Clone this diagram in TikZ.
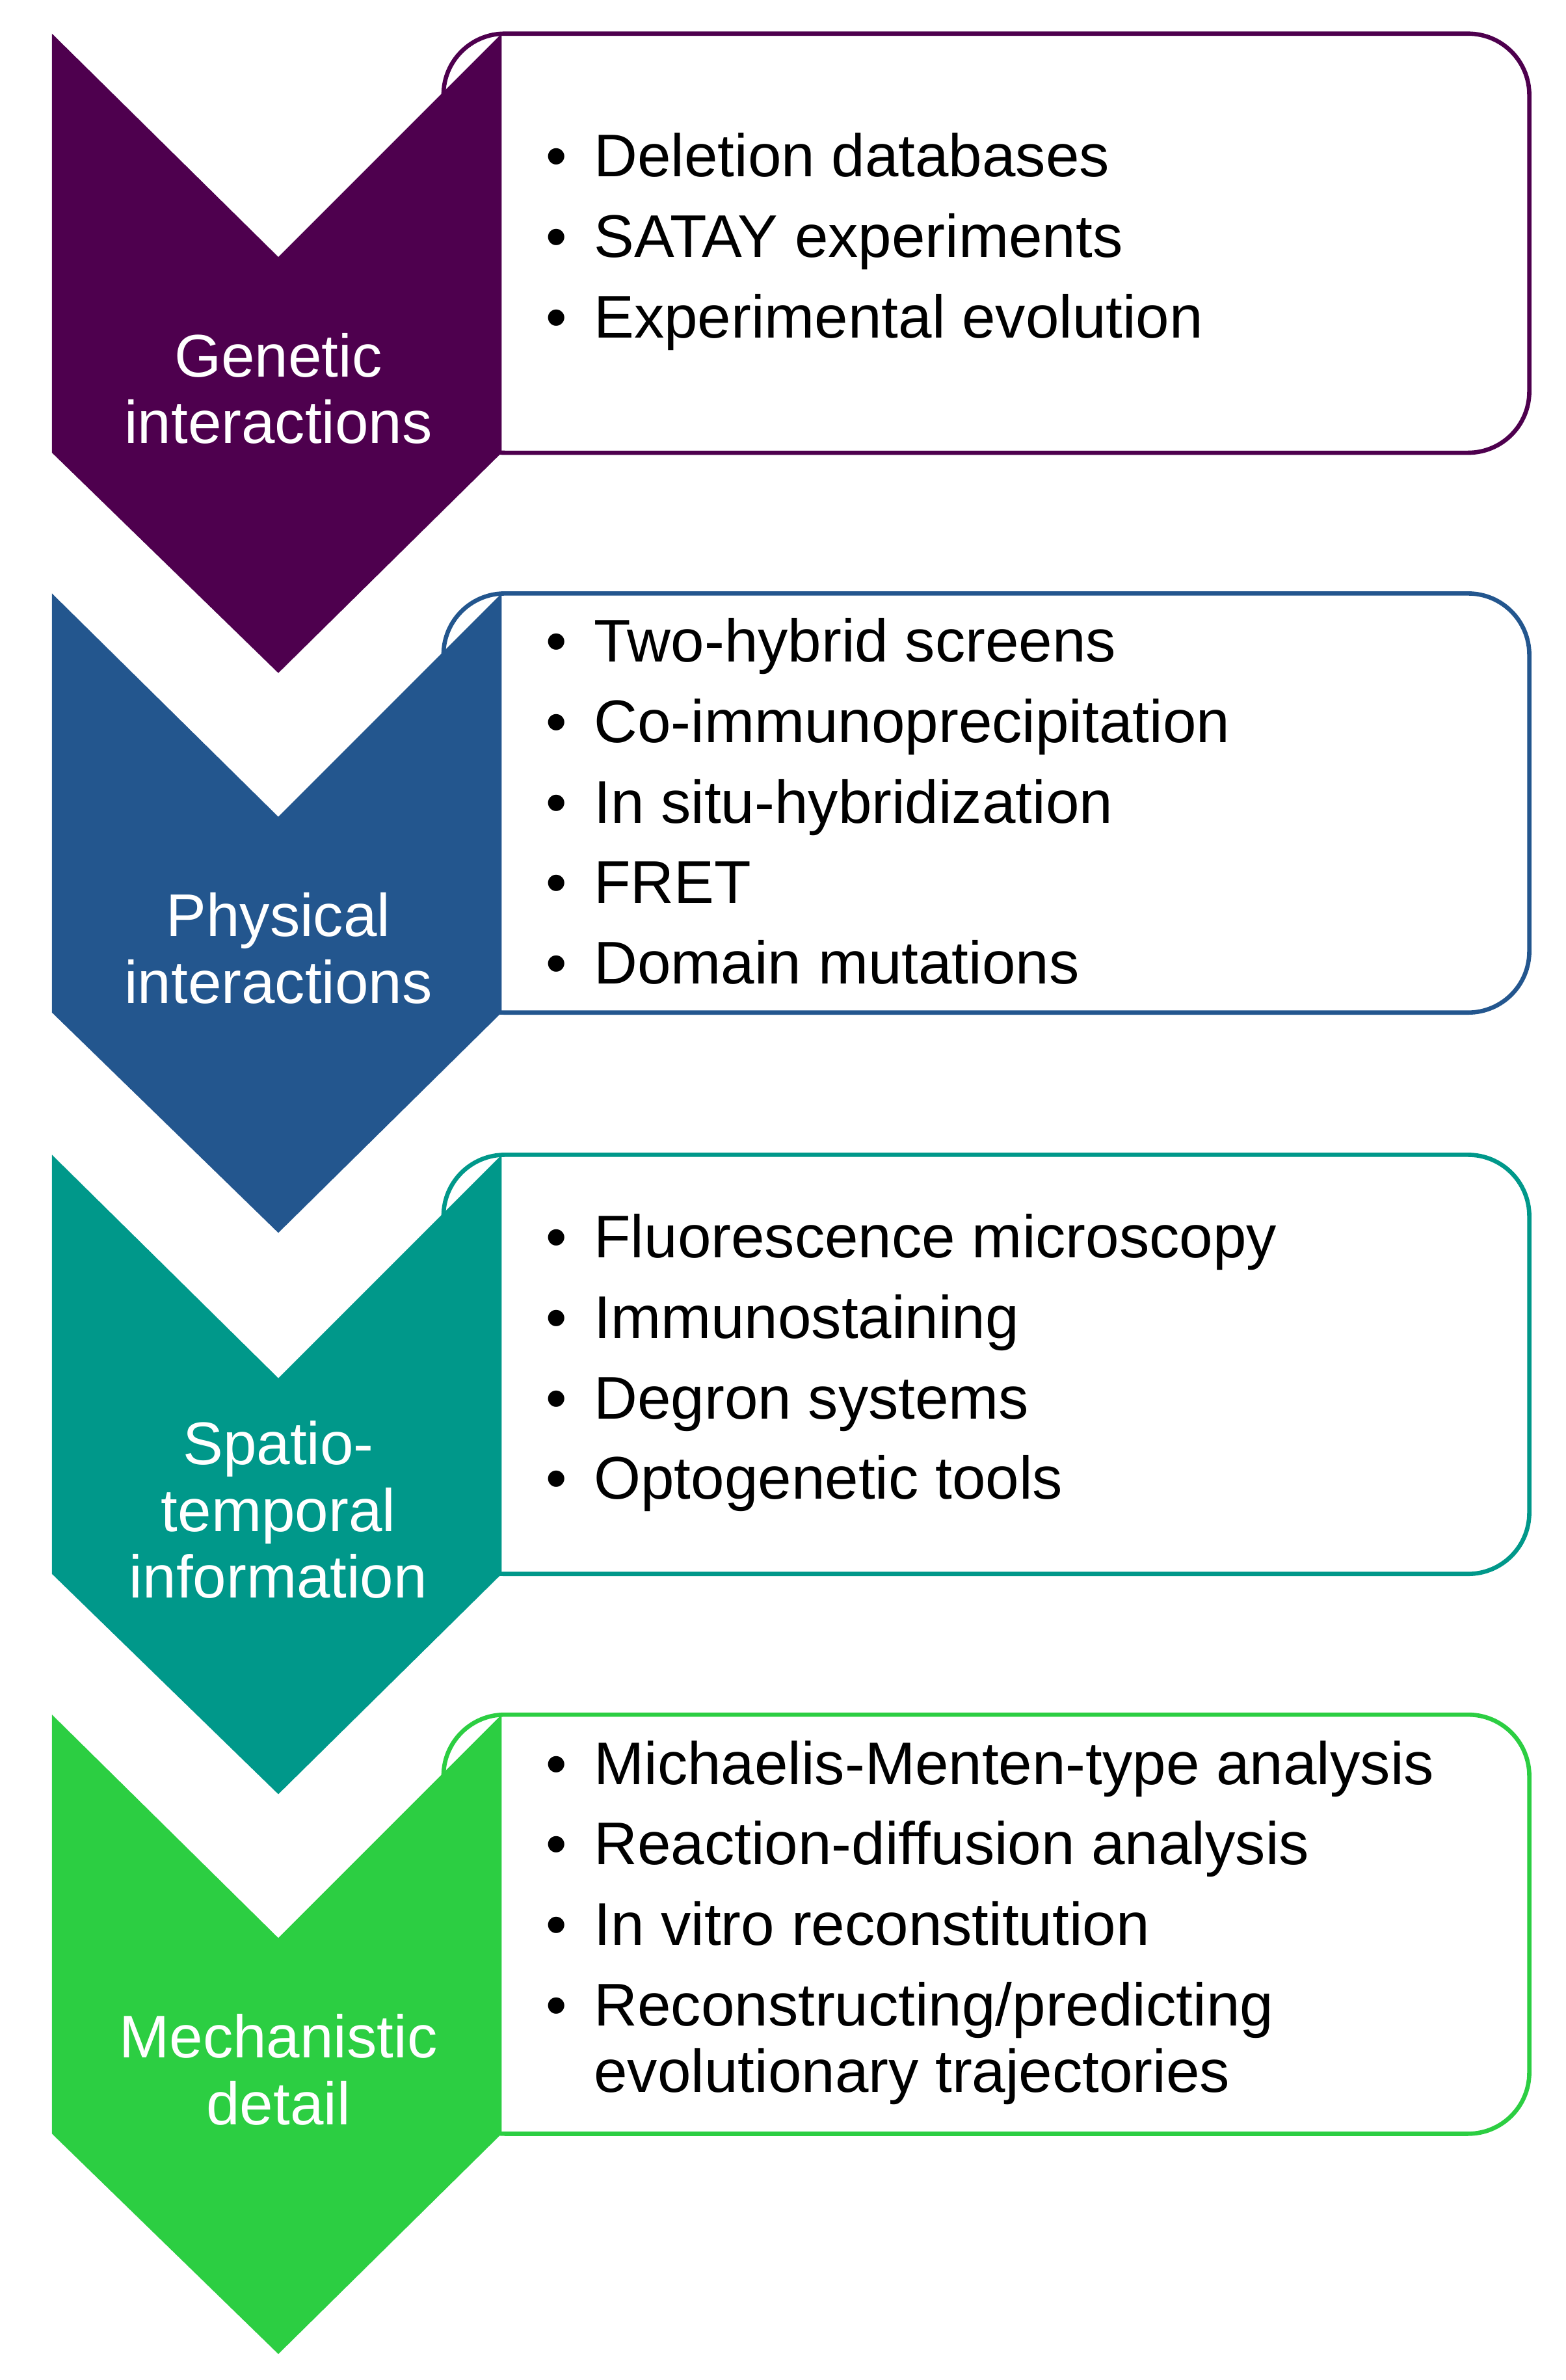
\documentclass[tikz,border=0pt]{standalone}
\usepackage{fontspec}
\setmainfont{Liberation Sans}
\usetikzlibrary{positioning}
\definecolor{genpurple}{RGB}{78,0,78}
\definecolor{phyblue}{RGB}{35,86,142}
\definecolor{spateal}{RGB}{0,152,138}
\definecolor{mechgreen}{RGB}{44,206,66}
\newcommand{\bitem}{\textbullet\hspace{0.45em}}
\newcommand{\bgap}{\\[6.4pt]}

\begin{document}
\begin{tikzpicture}[x=0.025cm, y=-0.025cm,
    stagebox/.style={draw=#1, line width=2pt, rounded corners=1cm, fill=white},
    chevron/.style={fill=#1, draw=none},
    stagelabel/.style={text=white, font=\fontsize{28}{31}\selectfont, align=center},
    itemlist/.style={anchor=west, font=\fontsize{28}{31}\selectfont, align=left}]
    \useasboundingbox (0,0) rectangle (1024,1556);
    % four stages, stacked
    \foreach \c/\t/\txt/\lst [count=\i] in {
        genpurple/22/{Genetic\\interactions}/{\bitem Deletion databases\bgap \bitem SATAY experiments\bgap \bitem Experimental evolution},
        phyblue/388/{Physical\\interactions}/{\bitem Two-hybrid screens\bgap \bitem Co-immunoprecipitation\bgap \bitem In situ-hybridization\bgap \bitem FRET\bgap \bitem Domain mutations},
        spateal/755/{Spatio-\\temporal\\information}/{\bitem Fluorescence microscopy\bgap \bitem Immunostaining\bgap \bitem Degron systems\bgap \bitem Optogenetic tools},
        mechgreen/1121/{Mechanistic\\detail}/{\bitem Michaelis-Menten-type analysis\bgap \bitem Reaction-diffusion analysis\bgap \bitem In vitro reconstitution\bgap \bitem Reconstructing/predicting\\\phantom{\bitem}evolutionary trajectories}} {
        % content box
        \draw[stagebox=\c] (290,\t) rectangle (1000,\t+274);
        % chevron
        \fill[chevron=\c] (34,\t) -- (182,\t+146) -- (328,\t) -- (328,\t+274)
            -- (182,\t+418) -- (34,\t+274) -- cycle;
        \node[stagelabel] (lbl\i) at (182,\t+232) {\txt};
        \node[itemlist] (items\i) at (352,\t+136) {\lst};
    }
\end{tikzpicture}
\end{document}
